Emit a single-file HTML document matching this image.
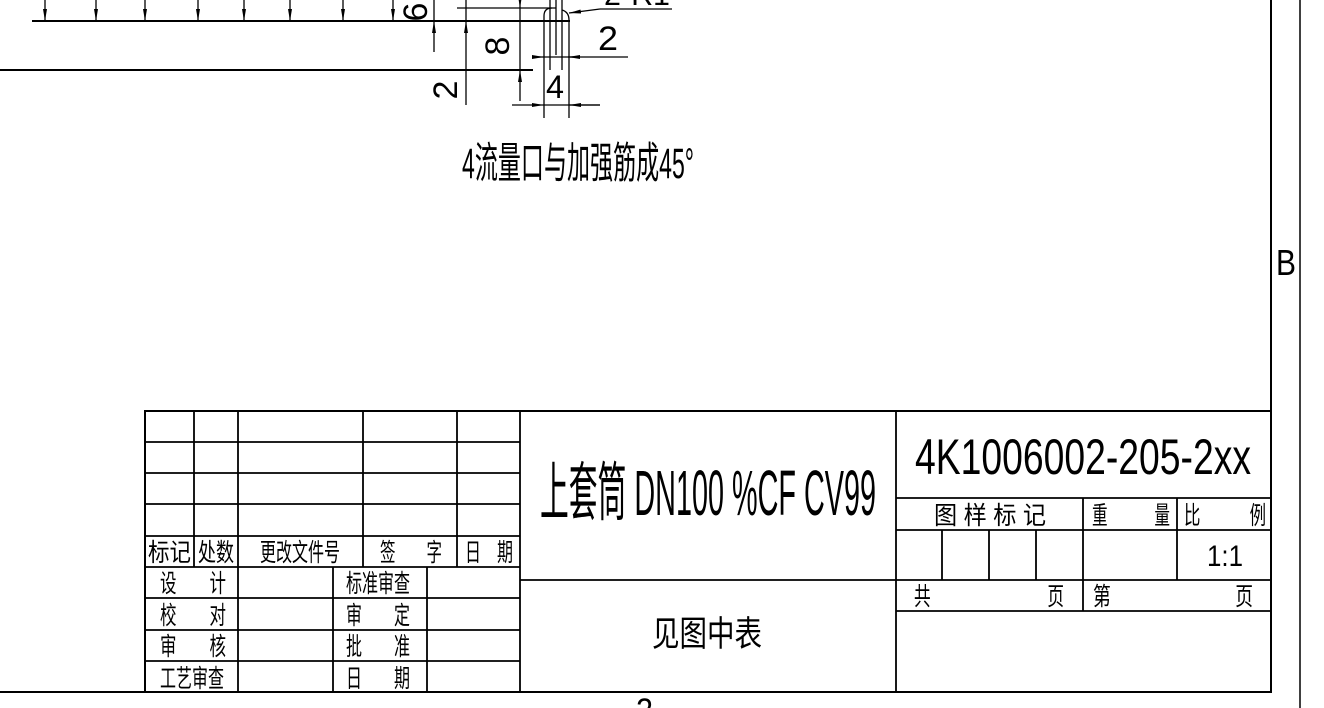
<!DOCTYPE html>
<html><head><meta charset="utf-8"><style>
html,body{margin:0;padding:0;background:#fff;}
svg{display:block;}
text{font-family:"Liberation Sans","Noto Sans CJK SC",sans-serif;fill:#000;}
</style></head><body>
<svg width="1324" height="708" viewBox="0 0 1324 708" xmlns="http://www.w3.org/2000/svg">
<defs>
<marker id="a" viewBox="0 0 12 4" refX="12" refY="2" markerWidth="12" markerHeight="4.5" markerUnits="userSpaceOnUse" orient="auto"><path d="M0,0L12,2L0,4z" fill="#000"/></marker>
</defs>
<g stroke="#000" stroke-width="1.3" fill="none">
<line x1="32" y1="21" x2="570" y2="21" stroke-width="2"/>
<line x1="0" y1="70" x2="533" y2="70" stroke-width="2"/>
<g marker-end="url(#a)">
<line x1="45" y1="0" x2="45" y2="21"/><line x1="96" y1="0" x2="96" y2="21"/><line x1="145" y1="0" x2="145" y2="21"/>
<line x1="198" y1="0" x2="198" y2="21"/><line x1="244" y1="0" x2="244" y2="21"/><line x1="290" y1="0" x2="290" y2="21"/>
<line x1="343" y1="0" x2="343" y2="21"/><line x1="393" y1="0" x2="393" y2="21"/>
<line x1="434" y1="52" x2="434" y2="21"/><line x1="466" y1="105" x2="466" y2="21"/>
<line x1="520" y1="0" x2="520" y2="8"/><line x1="520" y1="101" x2="520" y2="70"/>
<line x1="533" y1="57" x2="544" y2="57"/><line x1="580" y1="57" x2="568" y2="57"/>
<line x1="512" y1="105" x2="544" y2="105"/><line x1="600" y1="105" x2="569" y2="105"/>
<line x1="600" y1="9" x2="569" y2="13"/>
</g>
<line x1="434" y1="0" x2="434" y2="21"/>
<line x1="466" y1="0" x2="466" y2="21"/>
<line x1="520" y1="8" x2="520" y2="70"/>
<line x1="457" y1="8" x2="556" y2="8"/>
<path d="M544,118 V16 Q544,8 552,8"/>
<path d="M569,118 V20 Q569,12 562,10"/>
<line x1="550" y1="0" x2="550" y2="70"/>
<line x1="556" y1="0" x2="556" y2="55"/>
<line x1="562" y1="0" x2="562" y2="70"/>
<line x1="544" y1="57" x2="628" y2="57"/>
<line x1="544" y1="105" x2="600" y2="105"/>
<line x1="600" y1="9" x2="672" y2="9"/>
<line x1="1271" y1="0" x2="1271" y2="692" stroke-width="2"/>
<line x1="1300" y1="0" x2="1300" y2="708" stroke-width="1.5"/>
<line x1="0" y1="692" x2="1271" y2="692" stroke-width="2"/>
<g stroke-width="1.8">
<rect x="145" y="411" width="1126" height="281" stroke-width="2"/>
<line x1="520" y1="411" x2="520" y2="692"/>
<line x1="896" y1="411" x2="896" y2="692"/>
<line x1="145" y1="442" x2="520" y2="442"/><line x1="145" y1="473" x2="520" y2="473"/>
<line x1="145" y1="504" x2="520" y2="504"/><line x1="145" y1="536" x2="520" y2="536"/>
<line x1="145" y1="567" x2="520" y2="567"/><line x1="145" y1="598" x2="520" y2="598"/>
<line x1="145" y1="630" x2="520" y2="630"/><line x1="145" y1="661" x2="520" y2="661"/>
<line x1="194" y1="411" x2="194" y2="567"/><line x1="238" y1="411" x2="238" y2="692"/>
<line x1="363" y1="411" x2="363" y2="567"/><line x1="457" y1="411" x2="457" y2="567"/>
<line x1="333" y1="567" x2="333" y2="692"/><line x1="427" y1="567" x2="427" y2="692"/>
<line x1="520" y1="580" x2="1271" y2="580"/>
<line x1="896" y1="498" x2="1271" y2="498"/><line x1="896" y1="530" x2="1271" y2="530"/>
<line x1="896" y1="611" x2="1271" y2="611"/>
<line x1="1083" y1="498" x2="1083" y2="611"/><line x1="1177" y1="498" x2="1177" y2="580"/>
<line x1="942" y1="530" x2="942" y2="580"/><line x1="989" y1="530" x2="989" y2="580"/><line x1="1036" y1="530" x2="1036" y2="580"/>
</g>
</g>
<text transform="translate(427,12) rotate(-90)" font-size="34" text-anchor="middle">6</text>
<text transform="translate(509,46) rotate(-90)" font-size="34" text-anchor="middle">8</text>
<text transform="translate(457,90) rotate(-90)" font-size="34" text-anchor="middle">2</text>
<text x="598" y="50" font-size="34" textLength="20" lengthAdjust="spacingAndGlyphs">2</text>
<text x="546" y="98" font-size="32" textLength="18" lengthAdjust="spacingAndGlyphs">4</text>
<text x="604" y="5" font-size="30" textLength="66" lengthAdjust="spacingAndGlyphs">2-R1</text>
<text x="462" y="178" font-size="43" textLength="232" lengthAdjust="spacingAndGlyphs">4流量口与加强筋成45°</text>
<text x="1276" y="275" font-size="36" textLength="20" lengthAdjust="spacingAndGlyphs">B</text>
<text x="636" y="722" font-size="34" textLength="17" lengthAdjust="spacingAndGlyphs">2</text>
<text x="540" y="515" font-size="64" textLength="336" lengthAdjust="spacingAndGlyphs">上套筒 DN100 %CF CV99</text>
<text x="915" y="474" font-size="50" textLength="336" lengthAdjust="spacingAndGlyphs">4K1006002-205-2xx</text>
<text x="652" y="646" font-size="35" textLength="110" lengthAdjust="spacingAndGlyphs">见图中表</text>
<g font-size="25">
<text x="148" y="561" textLength="43" lengthAdjust="spacingAndGlyphs">标记</text>
<text x="198" y="561" textLength="36" lengthAdjust="spacingAndGlyphs">处数</text>
<text x="260" y="561" textLength="80" lengthAdjust="spacingAndGlyphs">更改文件号</text>
<text x="380" y="561" textLength="62" lengthAdjust="spacingAndGlyphs">签　　字</text>
<text x="465" y="561" textLength="48" lengthAdjust="spacingAndGlyphs">日　期</text>
<text x="160" y="592" textLength="66" lengthAdjust="spacingAndGlyphs">设　　计</text>
<text x="160" y="624" textLength="66" lengthAdjust="spacingAndGlyphs">校　　对</text>
<text x="160" y="655" textLength="66" lengthAdjust="spacingAndGlyphs">审　　核</text>
<text x="160" y="687" textLength="64" lengthAdjust="spacingAndGlyphs">工艺审查</text>
<text x="346" y="592" textLength="64" lengthAdjust="spacingAndGlyphs">标准审查</text>
<text x="346" y="624" textLength="64" lengthAdjust="spacingAndGlyphs">审　　定</text>
<text x="346" y="655" textLength="64" lengthAdjust="spacingAndGlyphs">批　　准</text>
<text x="346" y="687" textLength="64" lengthAdjust="spacingAndGlyphs">日　　期</text>
<text x="934" y="524" textLength="112" lengthAdjust="spacingAndGlyphs">图 样 标 记</text>
<text x="1092" y="524" textLength="78" lengthAdjust="spacingAndGlyphs">重　　　量</text>
<text x="1184" y="524" textLength="82" lengthAdjust="spacingAndGlyphs">比　　　例</text>
<text x="914" y="605" textLength="150" lengthAdjust="spacingAndGlyphs">共　　　　　　　页</text>
<text x="1093" y="605" textLength="160" lengthAdjust="spacingAndGlyphs">第　　　　　　　页</text>
</g>
<text x="1207" y="566" font-size="30" textLength="36" lengthAdjust="spacingAndGlyphs">1:1</text>
</svg>
</body></html>
